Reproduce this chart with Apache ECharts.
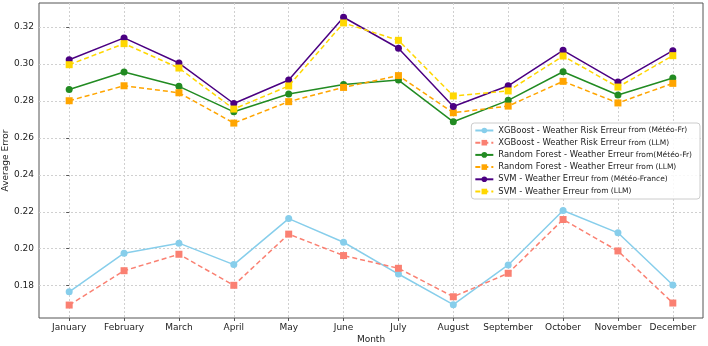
<!DOCTYPE html>
<html><head><meta charset="utf-8">
<script src="https://cdn.jsdelivr.net/npm/echarts@6/dist/echarts.min.js"></script>
<style>html,body{margin:0;padding:0;background:#fff}#c{width:708px;height:346px}</style>
</head><body><div id="c"></div>
<script>
const months = ["January","February","March","April","May","June","July","August","September","October","November","December"];
const yTicks = [0.18,0.20,0.22,0.24,0.26,0.28,0.30,0.32];
const xgbMeteo = [0.1767,0.1976,0.2030,0.1914,0.2163,0.2035,0.1863,0.1697,0.1912,0.2207,0.2086,0.1804];
const xgbLLM   = [0.1695,0.1881,0.1970,0.1802,0.2079,0.1963,0.1894,0.1740,0.1867,0.2158,0.1988,0.1706];
const rfMeteo  = [0.2862,0.2957,0.2879,0.2741,0.2837,0.2889,0.2913,0.2687,0.2803,0.2958,0.2832,0.2924];
const rfLLM    = [0.2801,0.2882,0.2844,0.2680,0.2796,0.2873,0.2937,0.2736,0.2772,0.2906,0.2789,0.2895];
const svmMeteo = [0.3023,0.3141,0.3005,0.2786,0.2913,0.3253,0.3085,0.2770,0.2882,0.3074,0.2902,0.3072];
const svmLLM   = [0.2996,0.3110,0.2978,0.2756,0.2881,0.3222,0.3128,0.2827,0.2854,0.3043,0.2875,0.3045];
const names = [
  "XGBoost - Weather Risk Erreur from (Météo-Fr)",
  "XGBoost - Weather Risk Erreur from (LLM)",
  "Random Forest - Weather Erreur from(Météo-Fr)",
  "Random Forest - Weather Erreur from (LLM)",
  "SVM - Weather Erreur from (Météo-France)",
  "SVM - Weather Erreur from (LLM)"
];
const colors = ["#87CEEB","#FA8072","#228B22","#FFA500","#4B0082","#FFD700"];
const dataSets = [xgbMeteo,xgbLLM,rfMeteo,rfLLM,svmMeteo,svmLLM];
const dashed = [false,true,false,true,false,true];

const series = dataSets.map((d,i)=>({
  name: names[i],
  type: 'line',
  data: d.map((v,j)=>[j,v]),
  color: colors[i],
  symbol: dashed[i] ? 'rect' : 'circle',
  symbolSize: 7,
  showSymbol: true,
  lineStyle: {width: 1.5, type: dashed[i] ? [5,3] : 'solid', color: colors[i]},
  itemStyle: {color: colors[i]},
  emphasis: {disabled: true},
  animation: false,
  z: 2 + i
}));

const chart = echarts.init(document.getElementById('c'), null, {renderer:'canvas'});
chart.setOption({
  backgroundColor: '#fff',
  textStyle: {fontFamily: 'DejaVu Sans'},
  grid: {left: 39, right: 5, top: 3, bottom: 28, containLabel: false, outerBoundsMode: 'none', show: true, borderColor: '#555', borderWidth: 1},
  xAxis: {
    type: 'value', min: -0.55, max: 11.55,
    name: 'Month', nameLocation: 'middle', nameGap: 17, nameMoveOverlap: false,
    nameTextStyle: {fontSize: 9, color: '#222'},
    axisLine: {show: false},
    axisTick: {show: true, inside: false, customValues: months.map((m,i)=>i), length: 3, lineStyle:{color:'#555'}},
    axisLabel: {customValues: months.map((m,i)=>i), formatter: v => months[Math.round(v)], fontSize: 9, color: '#222', margin: 5},
    splitLine: {show: true, lineStyle: {color: '#d0d0d0', type: [2,2], width: 1}}
  },
  yAxis: {
    type: 'value', min: 0.1625, max: 0.333,
    name: 'Average Error', nameLocation: 'middle', nameGap: 29, nameMoveOverlap: false,
    nameTextStyle: {fontSize: 9, color: '#222'},
    axisLine: {show: false},
    axisTick: {show: true, inside: false, customValues: yTicks, length: 3, lineStyle:{color:'#555'}},
    axisLabel: {customValues: yTicks, formatter: v => v.toFixed(2), fontSize: 9, color: '#222', margin: 5},
    splitLine: {show: true, lineStyle: {color: '#d0d0d0', type: [2,2], width: 1}}
  },
  legend: {
    orient: 'vertical', right: 8, top: 123,
    itemWidth: 18, itemHeight: 7, itemGap: 1.2,
    backgroundColor: 'rgba(255,255,255,0.85)', borderColor: '#ccc', borderWidth: 1, borderRadius: 3,
    padding: [2, 8, 2, 3],
    data: names,
    formatter: n => { const k = n.indexOf(' from'); return '{a|' + n.slice(0,k) + '}{b|' + n.slice(k) + '}'; },
    textStyle: {fontSize: 9, lineHeight: 11, color: '#222', rich: {a: {fontSize: 8.4, lineHeight: 11, color: '#222'}, b: {fontSize: 7.5, lineHeight: 11, color: '#222'}}}
  },
  series: series
});
</script></body></html>
